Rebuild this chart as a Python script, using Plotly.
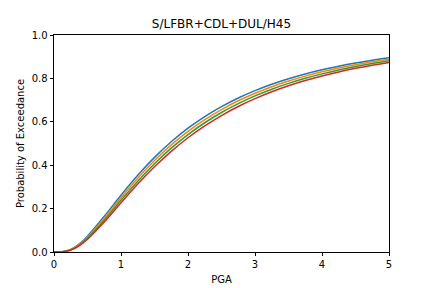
import plotly.graph_objects as go

pga = [0, 0.125, 0.25, 0.375, 0.5, 0.75, 1.0, 1.25, 1.5, 1.75, 2.0, 2.25, 2.5,
       2.75, 3.0, 3.25, 3.5, 3.75, 4.0, 4.25, 4.5, 4.75, 5.0]

p_blue = [0, 0.001, 0.0116, 0.0366, 0.0731, 0.1644, 0.2617, 0.3536, 0.436, 0.508,
          0.5704, 0.624, 0.670, 0.7096, 0.7436, 0.773, 0.7984, 0.8205, 0.8396,
          0.8564, 0.8711, 0.884, 0.8953]
p_orange = [0, 0.0009, 0.0106, 0.0337, 0.0681, 0.1554, 0.2498, 0.340, 0.4215, 0.4934,
            0.5558, 0.6099, 0.6565, 0.6968, 0.7315, 0.7617, 0.7878, 0.8106, 0.8304,
            0.8478, 0.8631, 0.8766, 0.8885]
p_green = [0, 0.0008, 0.0096, 0.031, 0.0633, 0.1467, 0.2382, 0.3265, 0.4071, 0.4786,
           0.5412, 0.5956, 0.6428, 0.6837, 0.7192, 0.7501, 0.7769, 0.8004, 0.8209,
           0.839, 0.8549, 0.8689, 0.8813]
p_red = [0, 0.0007, 0.0087, 0.0285, 0.0589, 0.1384, 0.2269, 0.3133, 0.3929, 0.4639,
         0.5265, 0.5812, 0.6289, 0.6705, 0.7066, 0.7382, 0.7658, 0.7899, 0.8111,
         0.8298, 0.8463, 0.8608, 0.8738]

series = [p_blue, p_orange, p_green, p_red]
colors = ["#1f77b4", "#ff7f0e", "#2ca02c", "#d62728"]

title = "S/LFBR+CDL+DUL/H45"
xlabel = "PGA"
ylabel = "Probability of Exceedance"

fig = go.Figure()
for ys, c in zip(series, colors):
    fig.add_trace(go.Scatter(x=pga, y=ys, mode="lines",
                             line=dict(color=c, width=1.5, shape="spline", smoothing=0.8),
                             showlegend=False, hoverinfo="skip"))

font = "DejaVu Sans"
axis_common = dict(showline=True, linecolor="black", linewidth=0.8, mirror=True,
                   ticks="outside", ticklen=3.5, tickwidth=0.8, tickcolor="black",
                   showgrid=False, zeroline=False, automargin=False,
                   tickfont=dict(family=font, size=10, color="black"))

fig.update_layout(
    width=432, height=288,
    margin=dict(l=54, r=43, t=35, b=36),
    paper_bgcolor="white", plot_bgcolor="white",
    title=dict(text=title, x=221.5/432, xref="container", xanchor="center",
               y=1 - 24/288, yref="container", yanchor="middle",
               font=dict(family=font, size=12, color="black")),
    xaxis=dict(range=[0, 5], tickvals=[0, 1, 2, 3, 4, 5],
               title=dict(text=xlabel, font=dict(family=font, size=10, color="black"), standoff=6),
               **axis_common),
    yaxis=dict(range=[0, 1], tickvals=[0, 0.2, 0.4, 0.6, 0.8, 1.0], tickformat=".1f",
               title=dict(text=ylabel, font=dict(family=font, size=10, color="black"), standoff=5),
               **axis_common),
)

fig.write_html("out.html")
